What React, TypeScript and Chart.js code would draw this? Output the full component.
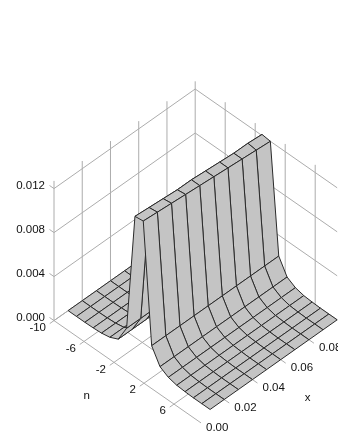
import React, { useEffect, useRef } from "react";
import { Chart, registerables } from "chart.js";

Chart.register(...registerables);

const W = 338;
const H = 437;

// surface sampling
const nGrid = [-10, -8.89, -7.77, -6.66, -5.55, -4.43, -3.32, -2.2, -1.09, 0.02, 1.14, 2.25, 3.36, 4.48, 5.59, 6.7, 7.82, 8.93];
const xGrid = [0.01, 0.02, 0.03, 0.04, 0.05, 0.06, 0.07, 0.08, 0.09, 0.1];
// one row per xGrid entry, one value per nGrid entry
const zRow1 = [0, 0, 0, 0.00002, 0.00007, 0.00022, 0.00058, 0.0021, 0.0128, 0.0129, 0.0021, 0.00072, 0.00028, 0.00009, 0.00003, 0, 0, 0];
const zRow2 = [0, 0, 0, 0.00002, 0.00007, 0.00022, 0.00058, 0.0021, 0.0127, 0.0128, 0.0021, 0.00072, 0.00028, 0.00009, 0.00003, 0, 0, 0];
const zRow3 = [0, 0, 0, 0.00002, 0.00007, 0.00022, 0.00058, 0.0021, 0.0126, 0.0127, 0.0021, 0.00072, 0.00028, 0.00009, 0.00003, 0, 0, 0];
const zRow4 = [0, 0, 0, 0.00002, 0.00007, 0.00022, 0.00058, 0.0021, 0.0125, 0.0126, 0.0021, 0.00072, 0.00028, 0.00009, 0.00003, 0, 0, 0];
const zRow5 = [0, 0, 0, 0.00002, 0.00007, 0.00022, 0.00058, 0.0021, 0.0125, 0.0125, 0.0021, 0.00072, 0.00028, 0.00009, 0.00003, 0, 0, 0];
const zRow6 = [0, 0, 0, 0.00002, 0.00007, 0.00022, 0.00058, 0.0021, 0.0124, 0.0124, 0.0021, 0.00072, 0.00028, 0.00009, 0.00003, 0, 0, 0];
const zRow7 = [0, 0, 0, 0.00002, 0.00007, 0.00022, 0.00058, 0.0021, 0.0123, 0.0123, 0.0021, 0.00072, 0.00028, 0.00009, 0.00003, 0, 0, 0];
const zRow8 = [0, 0, 0, 0.00002, 0.00007, 0.00022, 0.00058, 0.0021, 0.0122, 0.0122, 0.0021, 0.00072, 0.00028, 0.00009, 0.00003, 0, 0, 0];
const zRow9 = [0, 0, 0, 0.00002, 0.00007, 0.00022, 0.00058, 0.0021, 0.0122, 0.0121, 0.0021, 0.00072, 0.00028, 0.00009, 0.00003, 0, 0, 0];
const zRow10 = [0, 0, 0, 0.00002, 0.00007, 0.00022, 0.00058, 0.0021, 0.0121, 0.012, 0.0021, 0.00072, 0.00028, 0.00009, 0.00003, 0, 0, 0];
const zRows = [zRow1, zRow2, zRow3, zRow4, zRow5, zRow6, zRow7, zRow8, zRow9, zRow10];

// axes
const nTicks = [-10, -6, -2, 2, 6];
const xTicks = [0, 0.02, 0.04, 0.06, 0.08];
const zTicks = [0, 0.004, 0.008, 0.012];
const nLabels = ["-10", "-6", "-2", "2", "6"];
const xLabels = ["0.00", "0.02", "0.04", "0.06", "0.08"];
const zLabels = ["0.000", "0.004", "0.008", "0.012"];
const nMin = -10;
const nMax = 8.93;
const nStubEnd = 9.6;
const xMax = 0.1;
const zTop = 0.0127;

const project = (n: number, x: number, z: number) => ({
  x: 54 + (n + 10) * 7.5 + x * 1412,
  y: 320.6 + (n + 10) * 5.22 - x * 996 - z * 11000,
});

const GRID = "#acacac";
const FILL = "#c4c4c4";
const INK = "#2a2a2a";

function lineSet(points: { x: number; y: number }[], color: string) {
  return {
    data: points,
    showLine: true,
    borderColor: color,
    borderWidth: 1,
    pointRadius: 0,
    tension: 0,
    fill: false,
  };
}

function buildDatasets() {
  const out: any[] = [];
  const seg = (a: number[], b: number[]) =>
    out.push(lineSet([project(a[0], a[1], a[2]), project(b[0], b[1], b[2])], GRID));

  // left wall (n = nMin)
  for (const x of [0, 0.02, 0.04, 0.06, 0.08, 0.1]) seg([nMin, x, 0], [nMin, x, zTop]);
  for (const z of zTicks) {
    seg([nMin, 0, z], [nMin, xMax, z]);
    seg([nMin - 0.6, 0, z], [nMin, 0, z]);
  }
  // right wall (x = xMax)
  for (const n of [-6, -2, 2, 6]) seg([n, xMax, 0], [n, xMax, zTop]);
  for (const z of zTicks) seg([nMin, xMax, z], [nMax, xMax, z]);
  // floor
  for (const n of nTicks) seg([n, -0.003, 0], [n, xMax, 0]);
  for (const x of xTicks) seg([nMin, x, 0], [nStubEnd, x, 0]);

  // surface cells, far to near
  for (let i = xGrid.length - 2; i >= 0; i--) {
    for (let j = 0; j < nGrid.length - 1; j++) {
      const a = project(nGrid[j], xGrid[i], zRows[i][j]);
      const b = project(nGrid[j + 1], xGrid[i], zRows[i][j + 1]);
      const c = project(nGrid[j + 1], xGrid[i + 1], zRows[i + 1][j + 1]);
      const d = project(nGrid[j], xGrid[i + 1], zRows[i + 1][j]);
      out.push({
        data: [a, b, c, d, a],
        showLine: true,
        borderColor: INK,
        borderWidth: 1,
        borderJoinStyle: "round",
        backgroundColor: FILL,
        pointRadius: 0,
        tension: 0,
        fill: "shape",
      });
    }
  }
  return out.reverse();
}

const labelPlugin = {
  id: "axisLabels",
  afterDraw(chart: any) {
    const { ctx, scales } = chart;
    const px = (p: { x: number; y: number }) => ({
      x: scales.x.getPixelForValue(p.x),
      y: scales.y.getPixelForValue(p.y),
    });
    ctx.save();
    ctx.font = "11.5px 'Liberation Sans'";
    ctx.fillStyle = "#111111";
    ctx.textBaseline = "middle";
    ctx.textAlign = "right";
    zTicks.forEach((z, i) => {
      const p = px(project(nMin, 0, z));
      ctx.fillText(zLabels[i], p.x - 9, p.y - 3);
    });
    nTicks.forEach((n, i) => {
      const p = px(project(n, 0, 0));
      ctx.fillText(nLabels[i], p.x - 8, p.y + 7);
    });
    ctx.textAlign = "left";
    xTicks.forEach((x, i) => {
      const p = px(project(nStubEnd, x, 0));
      ctx.fillText(xLabels[i], p.x + 5, p.y + 5);
    });
    ctx.textAlign = "center";
    const nPos = px(project(-2, -0.02, 0));
    ctx.fillText("n", nPos.x + 1, nPos.y + 14);
    const xPos = px(project(nStubEnd, 0.06, 0));
    ctx.fillText("x", xPos.x + 22, xPos.y + 35);
    ctx.restore();
  },
};

export default function App() {
  const ref = useRef<HTMLCanvasElement>(null);
  useEffect(() => {
    document.body.style.margin = "0";
    const chart = new Chart(ref.current as HTMLCanvasElement, {
      type: "scatter",
      data: { datasets: buildDatasets() },
      options: {
        animation: false,
        responsive: false,
        events: [],
        layout: { padding: 0 },
        plugins: { legend: { display: false }, tooltip: { enabled: false } },
        scales: {
          x: { type: "linear", min: 0, max: W, display: false },
          y: { type: "linear", min: 0, max: H, reverse: true, display: false },
        },
      },
      plugins: [labelPlugin],
    } as any);
    return () => chart.destroy();
  }, []);
  return <canvas ref={ref} width={W} height={H} style={{ display: "block", background: "#fff" }} />;
}
